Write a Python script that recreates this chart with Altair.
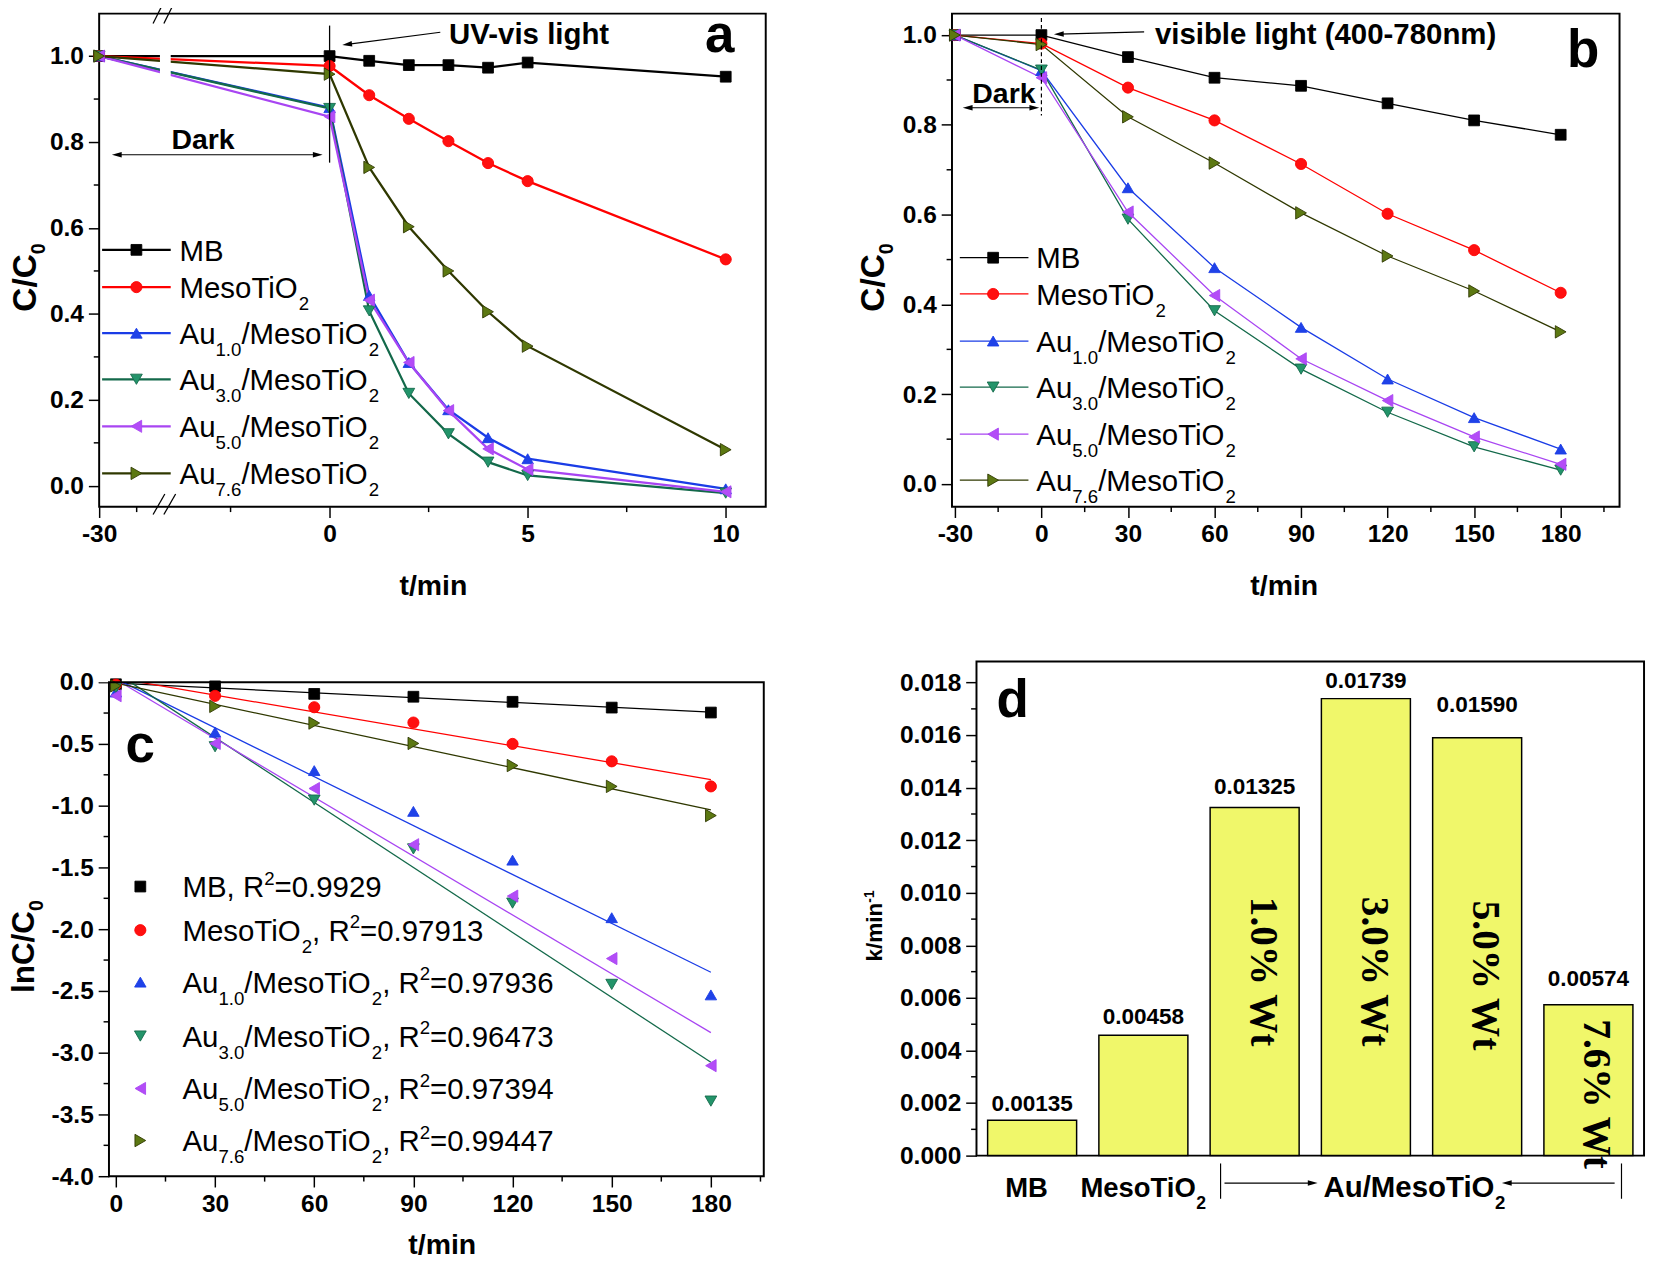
import math
import altair as alt
import pandas as pd

# ------------------------------------------------------------------ data
SERIES = ['MB', 'MesoTiO2', 'Au1.0', 'Au3.0', 'Au5.0', 'Au7.6']

# panel a : UV-vis light
T_A = [-30, 0, 1, 2, 3, 4, 5, 10]
A_MB = [1.000, 1.000, 0.989, 0.979, 0.979, 0.973, 0.985, 0.952]
A_MESO = [1.000, 0.977, 0.909, 0.854, 0.802, 0.751, 0.709, 0.527]
A_AU10 = [1.000, 0.880, 0.443, 0.287, 0.177, 0.112, 0.063, -0.007]
A_AU30 = [1.000, 0.878, 0.407, 0.215, 0.121, 0.055, 0.024, -0.017]
A_AU50 = [1.000, 0.859, 0.432, 0.287, 0.175, 0.086, 0.038, -0.014]
A_AU76 = [1.000, 0.958, 0.741, 0.603, 0.500, 0.405, 0.325, 0.084]

# panel b : visible light
T_B = [-30, 0, 30, 60, 90, 120, 150, 180]
B_MB = [1.000, 1.000, 0.951, 0.905, 0.887, 0.848, 0.810, 0.778]
B_MESO = [1.000, 0.981, 0.883, 0.810, 0.713, 0.602, 0.521, 0.426]
B_AU10 = [1.000, 0.921, 0.660, 0.482, 0.349, 0.234, 0.148, 0.078]
B_AU30 = [1.000, 0.922, 0.590, 0.386, 0.256, 0.160, 0.083, 0.031]
B_AU50 = [1.000, 0.905, 0.606, 0.420, 0.279, 0.186, 0.105, 0.044]
B_AU76 = [1.000, 0.979, 0.818, 0.715, 0.604, 0.508, 0.430, 0.339]

# panel c : lnC/C0
T_C = [0, 30, 60, 90, 120, 150, 180]
C_MB = [-0.017, -0.034, -0.095, -0.118, -0.159, -0.206, -0.246]
C_MESO = [-0.020, -0.111, -0.203, -0.327, -0.500, -0.641, -0.844]
C_AU10 = [-0.080, -0.405, -0.716, -1.046, -1.441, -1.907, -2.532]
C_AU30 = [-0.045, -0.523, -0.955, -1.350, -1.789, -2.447, -3.392]
C_AU50 = [-0.110, -0.496, -0.861, -1.316, -1.732, -2.238, -3.105]
C_AU76 = [-0.030, -0.196, -0.331, -0.496, -0.675, -0.844, -1.080]
R2 = ['0.9929', '0.97913', '0.97936', '0.96473', '0.97394', '0.99447']

# panel d : rate constants
K = [0.00135, 0.00458, 0.01325, 0.01739, 0.01590, 0.00574]
WT = ['', '', '1.0% Wt', '3.0% Wt', '5.0% Wt', '7.6% Wt']

# ------------------------------------------------------------------ styles / layout
LINE_COLORS = ['#000000', '#ff0000', '#1a3ce6', '#13694a', '#a845f2', '#2f3800']
FILL_COLORS = ['#000000', '#ff1010', '#1f42e8', '#23946a', '#b34cf7', '#5c7812']
SHAPES = ['square', 'circle', 'triangle-up', 'triangle-down', 'triangle-left', 'triangle-right']
SIZES = [121, 160, 205, 205, 205, 205]
BAR_FILL = '#f0f76a'

SANS = 'Liberation Sans'
SERIF = 'Liberation Serif'
ARROW = 'M1,0L-1,-0.55L-1,0.55Z'
MINUS_FIX = "replace(datum.label, '\u2212', '-')"

WA, HA = 680, 503
WB, HB = 681, 503
CX, CY, WC, HC = 10, 21, 668, 504      # panel c plot inside a larger view
DX, WD, HD = 25, 681, 504              # panel d plot inside a wider view

STROKE = alt.Scale(domain=SERIES, range=LINE_COLORS)
FILL = alt.Scale(domain=SERIES, range=FILL_COLORS)
SHAPE = alt.Scale(domain=SERIES, range=SHAPES)
SIZE = alt.Scale(domain=SERIES, range=SIZES)
DUMMY = pd.DataFrame({'z': [0]})

REG = {' ': 278, ',': 278, '.': 278, '/': 278, '=': 584, '-': 333, '(': 333, ')': 333, '%': 889,
       'A': 667, 'B': 667, 'C': 722, 'D': 722, 'M': 833, 'O': 778, 'R': 722, 'T': 611, 'W': 944,
       'a': 556, 'b': 556, 'e': 556, 'g': 556, 'h': 556, 'i': 222, 'k': 500, 'l': 222, 'm': 833,
       'n': 556, 'o': 556, 'r': 333, 's': 500, 't': 278, 'u': 556, 'v': 500}
BOLD = {' ': 278, ',': 278, '.': 278, '/': 278, '=': 584, '-': 333, '(': 333, ')': 333, '%': 889,
        'A': 722, 'B': 722, 'C': 722, 'D': 722, 'M': 833, 'O': 778, 'R': 722, 'T': 611, 'W': 944,
        'a': 556, 'b': 611, 'e': 556, 'g': 611, 'h': 611, 'i': 278, 'k': 556, 'l': 278, 'm': 889,
        'n': 611, 'o': 611, 'r': 389, 's': 556, 't': 333, 'u': 611, 'v': 556}


def tw(s, size, bold=False):
    tab = BOLD if bold else REG
    return sum(tab.get(ch, 556) for ch in s) * size / 1000.0


def rich(parts, x0, y0, size, sub_size, drop, rise, bold=False, angle=0, font=SANS):
    rows, s = [], 0.0
    w = 'bold' if bold else 'normal'
    for txt, kind in parts:
        fs = size if kind == 'n' else sub_size
        off = 0 if kind == 'n' else (drop if kind == 'b' else -rise)
        if angle == 270:
            x, y = x0 + off, y0 - s
        elif angle == 90:
            x, y = x0 - off, y0 + s
        else:
            x, y = x0 + s, y0 + off
        rows.append(dict(x=x, y=y, text=txt, size=fs, angle=angle, weight=w, font=font, align='left'))
        s += tw(txt, fs, bold)
    return rows


def single(txt, x, y, size, bold=True, align='center', font=SANS, angle=0):
    return [dict(x=x, y=y, text=txt, size=size, angle=angle, weight='bold' if bold else 'normal',
                 font=font, align=align)]


def text_layers(rows):
    df = pd.DataFrame(rows)
    out = []
    for key, g in df.groupby(['font', 'weight', 'align', 'size', 'angle'], sort=False):
        font, weight, align, size, angle = key
        out.append(alt.Chart(g.reset_index(drop=True)).mark_text(
            font=str(font), fontWeight=str(weight), align=str(align), baseline='alphabetic',
            fontSize=float(size), angle=float(angle), color='black').encode(
            x=alt.X('x:Q', scale=None), y=alt.Y('y:Q', scale=None), text='text:N'))
    return out


def seg_layer(segs, sw=1.2, dash=None):
    df = pd.DataFrame(segs, columns=['x', 'y', 'x2', 'y2'])
    kw = dict(color='black', strokeWidth=sw)
    if dash:
        kw['strokeDash'] = dash
    return alt.Chart(df).mark_rule(**kw).encode(
        x=alt.X('x:Q', scale=None), y=alt.Y('y:Q', scale=None), x2='x2:Q', y2='y2:Q')


def head_layer(heads):
    rows = []
    for tx, ty, fx, fy in heads:
        L = math.hypot(tx - fx, ty - fy)
        ux, uy = (tx - fx) / L, (ty - fy) / L
        ang = math.degrees(math.atan2(ty - fy, tx - fx)) % 360
        rows.append(dict(x=tx - 5 * ux, y=ty - 5 * uy, a=ang))
    return alt.Chart(pd.DataFrame(rows)).mark_point(
        shape=ARROW, filled=True, color='black', opacity=1, size=100, strokeWidth=0).encode(
        x=alt.X('x:Q', scale=None), y=alt.Y('y:Q', scale=None), angle=alt.Angle('a:Q', scale=None))


def axis(values, fmt, label_expr=MINUS_FIX, offset=0):
    return alt.Axis(values=values, format=fmt, title=None, grid=False, domain=False, ticks=True,
                    tickSize=11, tickWidth=1.5, tickColor='black', labelFont=SANS,
                    labelFontWeight='bold', labelFontSize=25, labelColor='black', labelPadding=5,
                    labelFlush=False, labelOverlap=False, offset=offset, labelExpr=label_expr)


def minor_x(vals, xs, xa, H):
    return alt.Chart(pd.DataFrame({'m': vals})).mark_rule(color='black', strokeWidth=1.5).encode(
        x=alt.X('m:Q', scale=xs, axis=xa), y=alt.value(H), y2=alt.value(H + 5.5))


def minor_y(vals, ys, ya, x0=0):
    return alt.Chart(pd.DataFrame({'m': vals})).mark_rule(color='black', strokeWidth=1.5).encode(
        y=alt.Y('m:Q', scale=ys, axis=ya), x=alt.value(x0), x2=alt.value(x0 - 5.5))


def long_df(t, cols):
    rows = []
    for s, vals in zip(SERIES, cols):
        for ti, v in zip(t, vals):
            rows.append(dict(series=s, t=ti, v=v))
    return pd.DataFrame(rows)


def name_parts(s):
    if s == 'MB':
        return [('MB', 'n')]
    if s == 'MesoTiO2':
        return [('MesoTiO', 'n'), ('2', 'b')]
    return [('Au', 'n'), (s[2:], 'b'), ('/MesoTiO', 'n'), ('2', 'b')]


def point_mark():
    return dict(filled=True, opacity=1, strokeWidth=0.9)


def point_enc():
    return dict(fill=alt.Fill('series:N', scale=FILL, legend=None),
                stroke=alt.Stroke('series:N', scale=STROKE, legend=None),
                shape=alt.Shape('series:N', scale=SHAPE, legend=None),
                size=alt.Size('series:N', scale=SIZE, legend=None))


def legend(rows_y, line_x, sym_x, text_x, lw, r2=None):
    layers = []
    pts = pd.DataFrame({'series': SERIES, 'x': [sym_x] * 6, 'y': rows_y})
    if line_x is not None:
        segs = pd.DataFrame({'series': SERIES, 'x': [line_x[0]] * 6, 'x2': [line_x[1]] * 6, 'y': rows_y})
        layers.append(alt.Chart(segs).mark_rule(strokeWidth=lw).encode(
            x=alt.X('x:Q', scale=None), x2='x2:Q', y=alt.Y('y:Q', scale=None),
            stroke=alt.Stroke('series:N', scale=STROKE, legend=None)))
    layers.append(alt.Chart(pts).mark_point(**point_mark()).encode(
        x=alt.X('x:Q', scale=None), y=alt.Y('y:Q', scale=None), **point_enc()))
    rows = []
    for i, s in enumerate(SERIES):
        parts = name_parts(s)
        if r2 is not None:
            parts = parts + [(', R', 'n'), ('2', 'p'), ('=' + r2[i], 'n')]
        rows += rich(parts, text_x, rows_y[i] + 11, 30, 19, 12, 13)
    return layers, rows


def data_layers(df, xf, xs, xa, ys, ya, lw, lines=True, points=True):
    out = []
    if lines:
        out.append(alt.Chart(df).mark_line(strokeWidth=lw).encode(
            x=alt.X(xf + ':Q', scale=xs, axis=xa), y=alt.Y('v:Q', scale=ys, axis=ya),
            stroke=alt.Stroke('series:N', scale=STROKE, legend=None), detail='series:N'))
    if points:
        out.append(alt.Chart(df).mark_point(**point_mark()).encode(
            x=alt.X(xf + ':Q', scale=xs, axis=xa), y=alt.Y('v:Q', scale=ys, axis=ya), **point_enc()))
    return out


# ------------------------------------------------------------------ panel a
def u_of(t):
    # broken time axis: -30..-25.7 compressed, then true scale from about -4 min
    return float(t) if t > -15 else -5.817 + (t + 30) * 0.3787


dfa = long_df(T_A, [A_MB, A_MESO, A_AU10, A_AU30, A_AU50, A_AU76])
dfa['u'] = dfa['t'].apply(u_of)
xs_a = alt.Scale(domain=[-5.817, 11.01], nice=False, zero=False)
ys_a = alt.Scale(domain=[-0.0486, 1.0988], nice=False, zero=False)
xa_a = axis([u_of(-30), 0, 5, 10], 'd', "datum.value < -1 ? '-30' : datum.label")
ya_a = axis([0, 0.2, 0.4, 0.6, 0.8, 1.0], '.1f')

la = data_layers(dfa, 'u', xs_a, xa_a, ys_a, ya_a, 2.3)
la.append(alt.Chart(DUMMY).mark_rect(color='white').encode(
    x=alt.value(62), x2=alt.value(73), y=alt.value(1.5), y2=alt.value(501.5)))
la.append(alt.Chart(DUMMY).mark_rule(color='black', strokeWidth=1.3).encode(
    x=alt.X(datum=0, scale=xs_a, axis=xa_a), y=alt.Y(datum=1.071, scale=ys_a, axis=ya_a),
    y2=alt.datum(0.752)))
la.append(seg_layer([(348, 19, 253, 31.4), (18, 144, 223, 144)], 1.2))
la.append(seg_layer([(55, 511, 67, 490), (66, 511, 78, 490), (55, 10, 63, -6), (66, 10, 74, -6)], 1.3))
la.append(head_layer([(248, 32, 348, 19), (13, 144, 228, 144), (228, 144, 13, 144)]))
leg_l, leg_t = legend([241, 279, 326, 373, 421, 469], (3, 73), 38, 82, 2.3)
la += leg_l
ta = leg_t
ta += single('UV-vis light', 357, 31, 30, align='left')
ta += single('a', 633, 39, 54)
ta += single('Dark', 106, 138, 29)
ta += single('t/min', 341, 593, 29)
ta += rich([('C/C', 'n'), ('0', 'b')], -64, 304, 34, 20, 9, 9, bold=True, angle=270)
la += text_layers(ta)
la.append(minor_x([u_of(-27.5), -2.5, 2.5, 7.5], xs_a, xa_a, HA))
la.append(minor_y([0.1, 0.3, 0.5, 0.7, 0.9], ys_a, ya_a))
# invisible layout anchor: fixes the top-left corner of the whole figure
la.append(alt.Chart(DUMMY).mark_rule(strokeWidth=1, strokeOpacity=0).encode(
    x=alt.value(-91.5), x2=alt.value(-91.5), y=alt.value(-5.5), y2=alt.value(-5.4)))
panel_a = alt.layer(*la).properties(width=WA, height=HA)

# ------------------------------------------------------------------ panel b
dfb = long_df(T_B, [B_MB, B_MESO, B_AU10, B_AU30, B_AU50, B_AU76])
xs_b = alt.Scale(domain=[-31, 200.4], nice=False, zero=False)
ys_b = alt.Scale(domain=[-0.0504, 1.0478], nice=False, zero=False)
xa_b = axis([-30, 0, 30, 60, 90, 120, 150, 180], 'd')
ya_b = axis([0, 0.2, 0.4, 0.6, 0.8, 1.0], '.1f')
lb = data_layers(dfb, 't', xs_b, xa_b, ys_b, ya_b, 1.3)
lb.append(alt.Chart(DUMMY).mark_rule(color='black', strokeWidth=1.2, strokeDash=[4, 3]).encode(
    x=alt.X(datum=0, scale=xs_b, axis=xa_b), y=alt.Y(datum=1.038, scale=ys_b, axis=ya_b),
    y2=alt.datum(0.821)))
lb.append(seg_layer([(196, 18.6, 109, 20.9), (16, 96, 84, 96)], 1.2))
lb.append(head_layer([(104, 21, 196, 18.6), (11, 96, 89, 96), (89, 96, 11, 96)]))
leg_l, leg_t = legend([249, 286, 334, 381, 429, 476], (8, 78), 42, 86, 1.3)
lb += leg_l
tb = leg_t
tb += single('visible light (400-780nm)', 207, 31, 30, align='left')
tb += single('b', 644, 54, 54)
tb += single('Dark', 53, 91, 29)
tb += single('t/min', 339, 593, 29)
tb += rich([('C/C', 'n'), ('0', 'b')], -69, 304, 34, 20, 9, 9, bold=True, angle=270)
lb += text_layers(tb)
lb.append(minor_x([-15, 15, 45, 75, 105, 135, 165, 195], xs_b, xa_b, HB))
lb.append(minor_y([0.1, 0.3, 0.5, 0.7, 0.9], ys_b, ya_b))
panel_b = alt.layer(*lb).properties(width=WB, height=HB)

# ------------------------------------------------------------------ panel c
PXU_C = WC / 198.1
PYU_C = HC / 4.0
dfc = long_df(T_C, [C_MB, C_MESO, C_AU10, C_AU30, C_AU50, C_AU76])
xs_c = alt.Scale(domain=[-2.1 - CX / PXU_C, 196.0], nice=False, zero=False)
ys_c = alt.Scale(domain=[-4.0, CY / PYU_C], nice=False, zero=False)
xa_c = axis([0, 30, 60, 90, 120, 150, 180], 'd')
ya_c = axis([0, -0.5, -1.0, -1.5, -2.0, -2.5, -3.0, -3.5, -4.0], '.1f', offset=-CX)
fit = alt.Chart(dfc).transform_regression('t', 'v', groupby=['series'], extent=[0, 180]).mark_line(
    strokeWidth=1.3).encode(
    x=alt.X('t:Q', scale=xs_c, axis=xa_c), y=alt.Y('v:Q', scale=ys_c, axis=ya_c),
    stroke=alt.Stroke('series:N', scale=STROKE, legend=None), detail='series:N')
lc = [fit]
lc.append(alt.Chart(DUMMY).mark_rect(color='white').encode(
    x=alt.value(0), x2=alt.value(CX + WC + 2), y=alt.value(0), y2=alt.value(CY)))
lc += data_layers(dfc, 't', xs_c, xa_c, ys_c, ya_c, 1.3, lines=False)
lc.append(alt.Chart(DUMMY).mark_rect(fillOpacity=0, stroke='black', strokeWidth=2).encode(
    x=alt.X(datum=-2.1, scale=xs_c, axis=xa_c), x2=alt.datum(196.0),
    y=alt.Y(datum=0.0, scale=ys_c, axis=ya_c), y2=alt.datum(-4.0)))
leg_l, leg_t = legend([CY + v for v in [208.5, 253, 306, 361, 414.5, 467.6]], None, CX + 32, CX + 75,
                      1.3, r2=R2)
lc += leg_l
tc = leg_t
tc += single('c', CX + 32, CY + 81, 54)
tc += single('t/min', CX + 340, CY + 583, 29)
tc += rich([('lnC/C', 'n'), ('0', 'b')], CX - 76, CY + 317, 32, 20, 9, 9, bold=True, angle=270)
lc += text_layers(tc)
lc.append(minor_x([15, 45, 75, 105, 135, 165, 195], xs_c, xa_c, CY + HC))
lc.append(minor_y([-0.25, -0.75, -1.25, -1.75, -2.25, -2.75, -3.25, -3.75], ys_c, ya_c, x0=CX))
panel_c = alt.layer(*lc).properties(width=CX + WC, height=CY + HC,
                                    view=alt.ViewBackground(stroke='transparent'))

# ------------------------------------------------------------------ panel d
YMAX_D = 0.0188
GAP = [9, 11, 14, 11, 26, 19]          # label gap above bar, px
WT_Y = [0, 0, 240, 240, 244, 365]      # start of rotated label, px from top
dfd = pd.DataFrame({'cat': SERIES, 'k': K, 'wt': WT})
dfd['lab'] = [f'{k:.5f}' for k in K]
dfd['ylab'] = [k + g * YMAX_D / HD for k, g in zip(K, GAP)]
dfd['ypx'] = WT_Y
xs_d = alt.Scale(domain=SERIES, range=[DX, DX + WD], paddingInner=0.2, paddingOuter=0.1)
ys_d = alt.Scale(domain=[0, YMAX_D], nice=False, zero=True)
ya_d = axis([0, 0.002, 0.004, 0.006, 0.008, 0.010, 0.012, 0.014, 0.016, 0.018], '.3f', offset=-DX)
bars = alt.Chart(dfd).mark_bar(fill=BAR_FILL, stroke='black', strokeWidth=1.5).encode(
    x=alt.X('cat:N', scale=xs_d, sort=SERIES, axis=None), y=alt.Y('k:Q', scale=ys_d, axis=ya_d))
vlab = alt.Chart(dfd).mark_text(font=SANS, fontWeight='bold', fontSize=23, baseline='alphabetic',
                                align='center', color='black').encode(
    x=alt.X('cat:N', scale=xs_d, sort=SERIES, axis=None), y=alt.Y('ylab:Q', scale=ys_d, axis=ya_d),
    text='lab:N')
wlab = alt.Chart(dfd[dfd['wt'] != '']).mark_text(font=SERIF, fontWeight='bold', fontSize=40, angle=90,
                                                 align='left', baseline='alphabetic', dy=4,
                                                 color='black').encode(
    x=alt.X('cat:N', scale=xs_d, sort=SERIES, axis=None), y=alt.Y('ypx:Q', scale=None), text='wt:N')
frame_d = alt.Chart(DUMMY).mark_rect(fillOpacity=0, stroke='black', strokeWidth=2).encode(
    x=alt.value(DX), x2=alt.value(DX + WD), y=alt.value(0), y2=alt.value(HD))
ld = [bars, vlab, wlab, frame_d]
ld.append(seg_layer([(DX + 249, 512, DX + 249, 548), (DX + 658, 512, DX + 658, 548),
                     (DX + 253, 532, DX + 343, 532), (DX + 651, 532, DX + 541, 532)], 1.2))
ld.append(head_layer([(DX + 348, 532, DX + 253, 532), (DX + 536, 532, DX + 651, 532)]))
td = []
td += single('d', DX + 37, 57, 54)
td += single('MB', DX + 51, 546, 28)
td += rich([('MesoTiO', 'n'), ('2', 'b')], DX + 106, 546, 28, 18, 12, 12, bold=True)
td += rich([('Au/MesoTiO', 'n'), ('2', 'b')], DX + 354, 546, 30, 19, 12, 12, bold=True)
td += rich([('k/min', 'n'), ('-1', 'p')], DX - 96, 306, 23, 14, 9, 9, bold=True, angle=270)
ld += text_layers(td)
ld.append(minor_y([0.001, 0.003, 0.005, 0.007, 0.009, 0.011, 0.013, 0.015, 0.017], ys_d, ya_d, x0=DX))
panel_d = alt.layer(*ld).properties(width=DX + WD, height=HD,
                                    view=alt.ViewBackground(stroke='transparent'))

# ------------------------------------------------------------------ layout
chart = alt.concat(panel_a, panel_b, panel_c, panel_d, columns=2,
                   spacing=alt.RowColnumber(row=136, column=164),
                   bounds='flush', align='all').properties(
    padding={'left': 0, 'top': -15, 'right': 0, 'bottom': 0},
    background='white').configure_view(stroke='black', strokeWidth=2)

chart.save('out.html', embed_options={'renderer': 'svg', 'actions': False})
